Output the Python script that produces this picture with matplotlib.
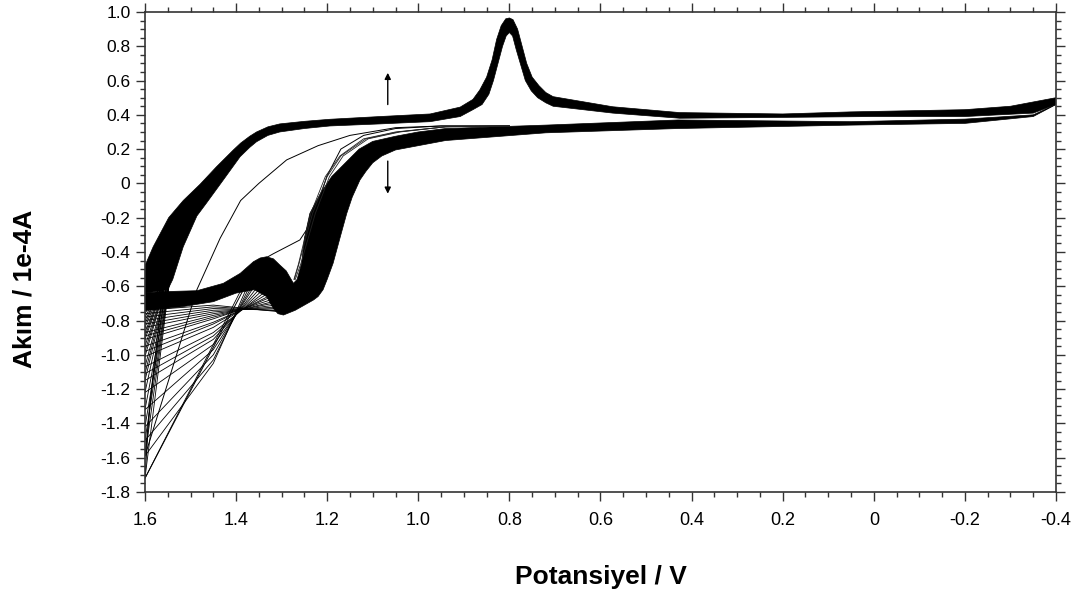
import matplotlib
matplotlib.use("Agg")
import matplotlib.pyplot as plt
from matplotlib import font_manager
from matplotlib.ticker import MultipleLocator, FuncFormatter

plt.rcParams["font.family"] = ["Liberation Sans", "DejaVu Sans"]

# --- settled cycles: forward sweep band (1.6 V -> -0.4 V) ---
fwd_top_E = [1.60, 1.582, 1.548, 1.516, 1.479, 1.443, 1.406, 1.39, 1.37, 1.355, 1.33, 1.304,
             1.25, 1.194, 1.084, 0.974, 0.908, 0.88, 0.865, 0.85, 0.838, 0.828, 0.818, 0.808,
             0.80, 0.792, 0.782, 0.772, 0.762, 0.75, 0.735, 0.72, 0.704, 0.573, 0.426, 0.20,
             0.052, -0.20, -0.30, -0.40]
fwd_top_I = [-0.48, -0.37, -0.20, -0.10, -0.005, 0.097, 0.195, 0.235, 0.275, 0.30, 0.33, 0.347,
             0.362, 0.374, 0.39, 0.405, 0.445, 0.49, 0.545, 0.62, 0.72, 0.84, 0.92, 0.96,
             0.965, 0.955, 0.90, 0.80, 0.70, 0.62, 0.57, 0.53, 0.506, 0.447, 0.413, 0.405,
             0.417, 0.43, 0.45, 0.50]
fwd_bot_E = [1.60, 1.55, 1.539, 1.516, 1.486, 1.465, 1.428, 1.391, 1.37, 1.355, 1.33, 1.304,
             1.25, 1.194, 1.084, 0.974, 0.908, 0.88, 0.86, 0.845, 0.835, 0.825, 0.815, 0.807,
             0.80, 0.793, 0.785, 0.775, 0.765, 0.752, 0.738, 0.72, 0.704, 0.573, 0.426, 0.20,
             0.0, -0.20, -0.35, -0.40]
fwd_bot_I = [-0.64, -0.62, -0.56, -0.37, -0.19, -0.115, 0.02, 0.156, 0.21, 0.243, 0.28, 0.30,
             0.32, 0.335, 0.347, 0.36, 0.39, 0.43, 0.46, 0.52, 0.60, 0.70, 0.80, 0.86,
             0.88, 0.86, 0.78, 0.69, 0.60, 0.54, 0.50, 0.47, 0.45, 0.41, 0.38, 0.385,
             0.39, 0.39, 0.41, 0.46]

# --- settled cycles: reverse sweep band (-0.4 V -> 1.6 V) ---
rev_top_E = [-0.40, -0.35, -0.20, 0.05, 0.43, 0.72, 0.94, 1.00, 1.05, 1.10, 1.13, 1.16,
             1.19, 1.215, 1.238, 1.25, 1.256, 1.266, 1.274, 1.29, 1.304, 1.318, 1.333, 1.347,
             1.362, 1.391, 1.428, 1.486, 1.567, 1.60]
rev_top_I = [0.46, 0.40, 0.375, 0.36, 0.37, 0.34, 0.32, 0.30, 0.275, 0.245, 0.20, 0.12,
             0.04, -0.06, -0.175, -0.32, -0.466, -0.56, -0.583, -0.51, -0.476, -0.44, -0.428, -0.435,
             -0.457, -0.525, -0.583, -0.626, -0.632, -0.638]
rev_bot_E = [-0.40, -0.35, -0.20, 0.05, 0.43, 0.72, 0.94, 1.05, 1.08, 1.10, 1.115, 1.128,
             1.145, 1.157, 1.17, 1.187, 1.20, 1.209, 1.22, 1.23, 1.25, 1.27, 1.296, 1.308,
             1.318, 1.333, 1.36, 1.40, 1.45, 1.52, 1.60]
rev_bot_I = [0.46, 0.39, 0.35, 0.34, 0.32, 0.295, 0.25, 0.195, 0.16, 0.12, 0.07, 0.02,
             -0.08, -0.175, -0.30, -0.466, -0.56, -0.62, -0.66, -0.68, -0.71, -0.74, -0.768, -0.76,
             -0.73, -0.66, -0.62, -0.64, -0.69, -0.72, -0.74]

# --- first two cycles, drawn on their own ---
cyc1_E = [0.80, 0.95, 1.05, 1.15, 1.22, 1.289, 1.35, 1.39, 1.435, 1.486, 1.60, 1.585, 1.565, 1.55]
cyc1_I = [0.335, 0.335, 0.325, 0.28, 0.22, 0.137, 0.0, -0.10, -0.32, -0.62, -1.59, -1.20, -0.80, -0.55]
cyc2_E = [0.80, 0.95, 1.05, 1.12, 1.17, 1.201, 1.231, 1.26, 1.289, 1.318, 1.345, 1.38, 1.60, 1.59, 1.56]
cyc2_I = [0.335, 0.335, 0.32, 0.28, 0.20, 0.04, -0.214, -0.33, -0.37, -0.41, -0.45, -0.60, -1.72, -1.30, -0.60]

# next few cycles on the reverse wave, just ahead of the dense band
early_I = [0.335, 0.33, 0.30, 0.26, 0.16, 0.04, -0.175, -0.35, -0.47, -0.56]
early_E = [[0.80, 0.94, 1.04, 1.11, 1.165, 1.195, 1.226, 1.245, 1.258, 1.27],
           [0.80, 0.94, 1.045, 1.115, 1.17, 1.20, 1.232, 1.25, 1.262, 1.272],
           [0.80, 0.94, 1.05, 1.12, 1.172, 1.204, 1.236, 1.252, 1.263, 1.273]]

# --- early cycles fanning out near the positive limit ---
fan_dep_E = [1.30, 1.30, 1.305, 1.31, 1.31, 1.315, 1.32, 1.32, 1.325, 1.33, 1.33,
             1.335, 1.34, 1.345, 1.35, 1.355, 1.36, 1.365, 1.37, 1.375, 1.385]
fan_dep_I = [-0.75, -0.745, -0.74, -0.73, -0.72, -0.71, -0.70, -0.69, -0.68, -0.67, -0.66,
             -0.65, -0.64, -0.63, -0.62, -0.61, -0.60, -0.60, -0.60, -0.60, -0.60]
fan_mid_I = [-0.71, -0.72, -0.73, -0.74, -0.75, -0.76, -0.77, -0.78, -0.79, -0.81, -0.82,
             -0.84, -0.87, -0.89, -0.91, -0.94, -0.97, -1.00, -1.03, -1.05, -0.94]
fan_end_I = [-0.74, -0.76, -0.78, -0.80, -0.82, -0.84, -0.87, -0.89, -0.91, -0.95, -0.98,
             -1.01, -1.07, -1.11, -1.15, -1.22, -1.32, -1.42, -1.50, -1.59, -1.72]
fan_join_E = [1.565, 1.565, 1.56, 1.56, 1.56, 1.558, 1.556, 1.555, 1.553, 1.552, 1.55,
              1.55, 1.548, 1.547, 1.546, 1.545, 1.545, 1.545, 1.545, 1.545, 1.545]
fan_join_I = [-0.60, -0.60, -0.59, -0.59, -0.58, -0.58, -0.57, -0.57, -0.56, -0.56, -0.55,
              -0.55, -0.55, -0.55, -0.55, -0.55, -0.55, -0.55, -0.55, -0.55, -0.55]
fan_mid_E = 1.45
E_limit = 1.60

x_ticks = [1.6, 1.4, 1.2, 1.0, 0.8, 0.6, 0.4, 0.2, 0.0, -0.2, -0.4]
y_ticks = [1.0, 0.8, 0.6, 0.4, 0.2, 0.0, -0.2, -0.4, -0.6, -0.8, -1.0, -1.2, -1.4, -1.6, -1.8]


def fmt(v, pos):
    return "0" if abs(v) < 1e-9 else f"{v:.1f}"


fig = plt.figure(figsize=(10.81, 5.98), dpi=100)
ax = fig.add_axes([0.1341, 0.1773, 0.8428, 0.8027])

# dense bands of overlapping scans
ax.fill(fwd_top_E + fwd_bot_E[::-1], fwd_top_I + fwd_bot_I[::-1],
        color="black", lw=0.5, ec="black")
ax.fill(rev_top_E + rev_bot_E[::-1], rev_top_I + rev_bot_I[::-1],
        color="black", lw=0.5, ec="black")

ax.plot(cyc1_E, cyc1_I, color="black", lw=0.7)
ax.plot(cyc2_E, cyc2_I, color="black", lw=0.7)
for es in early_E:
    ax.plot(es, early_I, color="#222222", lw=0.6)

for i in range(len(fan_end_I)):
    es = [fan_dep_E[i], fan_mid_E, E_limit, fan_join_E[i]]
    cs = [fan_dep_I[i], fan_mid_I[i], fan_end_I[i], fan_join_I[i]]
    ax.plot(es, cs, color="black", lw=0.6)

# arrows showing the trend with cycle number
arrow = dict(arrowstyle="-|>", color="black", lw=1.0, mutation_scale=9, shrinkA=0, shrinkB=0)
ax.annotate("", xy=(1.067, 0.645), xytext=(1.067, 0.46), arrowprops=arrow)
ax.annotate("", xy=(1.067, -0.06), xytext=(1.067, 0.13), arrowprops=arrow)

ax.set_xlim(1.6, -0.4)
ax.set_ylim(-1.8, 1.0)
ax.set_xticks(x_ticks)
ax.set_yticks(y_ticks)
ax.xaxis.set_minor_locator(MultipleLocator(0.05))
ax.yaxis.set_minor_locator(MultipleLocator(0.05))
ax.xaxis.set_major_formatter(FuncFormatter(fmt))
ax.yaxis.set_major_formatter(FuncFormatter(fmt))
ax.tick_params(which="both", direction="out", top=True, right=True, width=1.0, color="#333333")
ax.tick_params(which="major", length=6.5, pad=4)
ax.tick_params(which="minor", length=3.5)
ax.tick_params(axis="y", which="major", labelsize=12.5)
ax.tick_params(axis="x", which="major", pad=8, labelsize=13)
for s in ax.spines.values():
    s.set_linewidth(1.2)
    s.set_color("#333333")

ax.text(0.5005, -0.177, "Potansiyel / V", transform=ax.transAxes, ha="center", va="center",
        fontsize=19, fontweight="bold")
ax.text(-0.132, 0.423, "Akım / 1e-4A", transform=ax.transAxes, ha="center", va="center",
        rotation=90, fontsize=19, fontweight="bold")

fig.savefig("out.png", dpi=100)
